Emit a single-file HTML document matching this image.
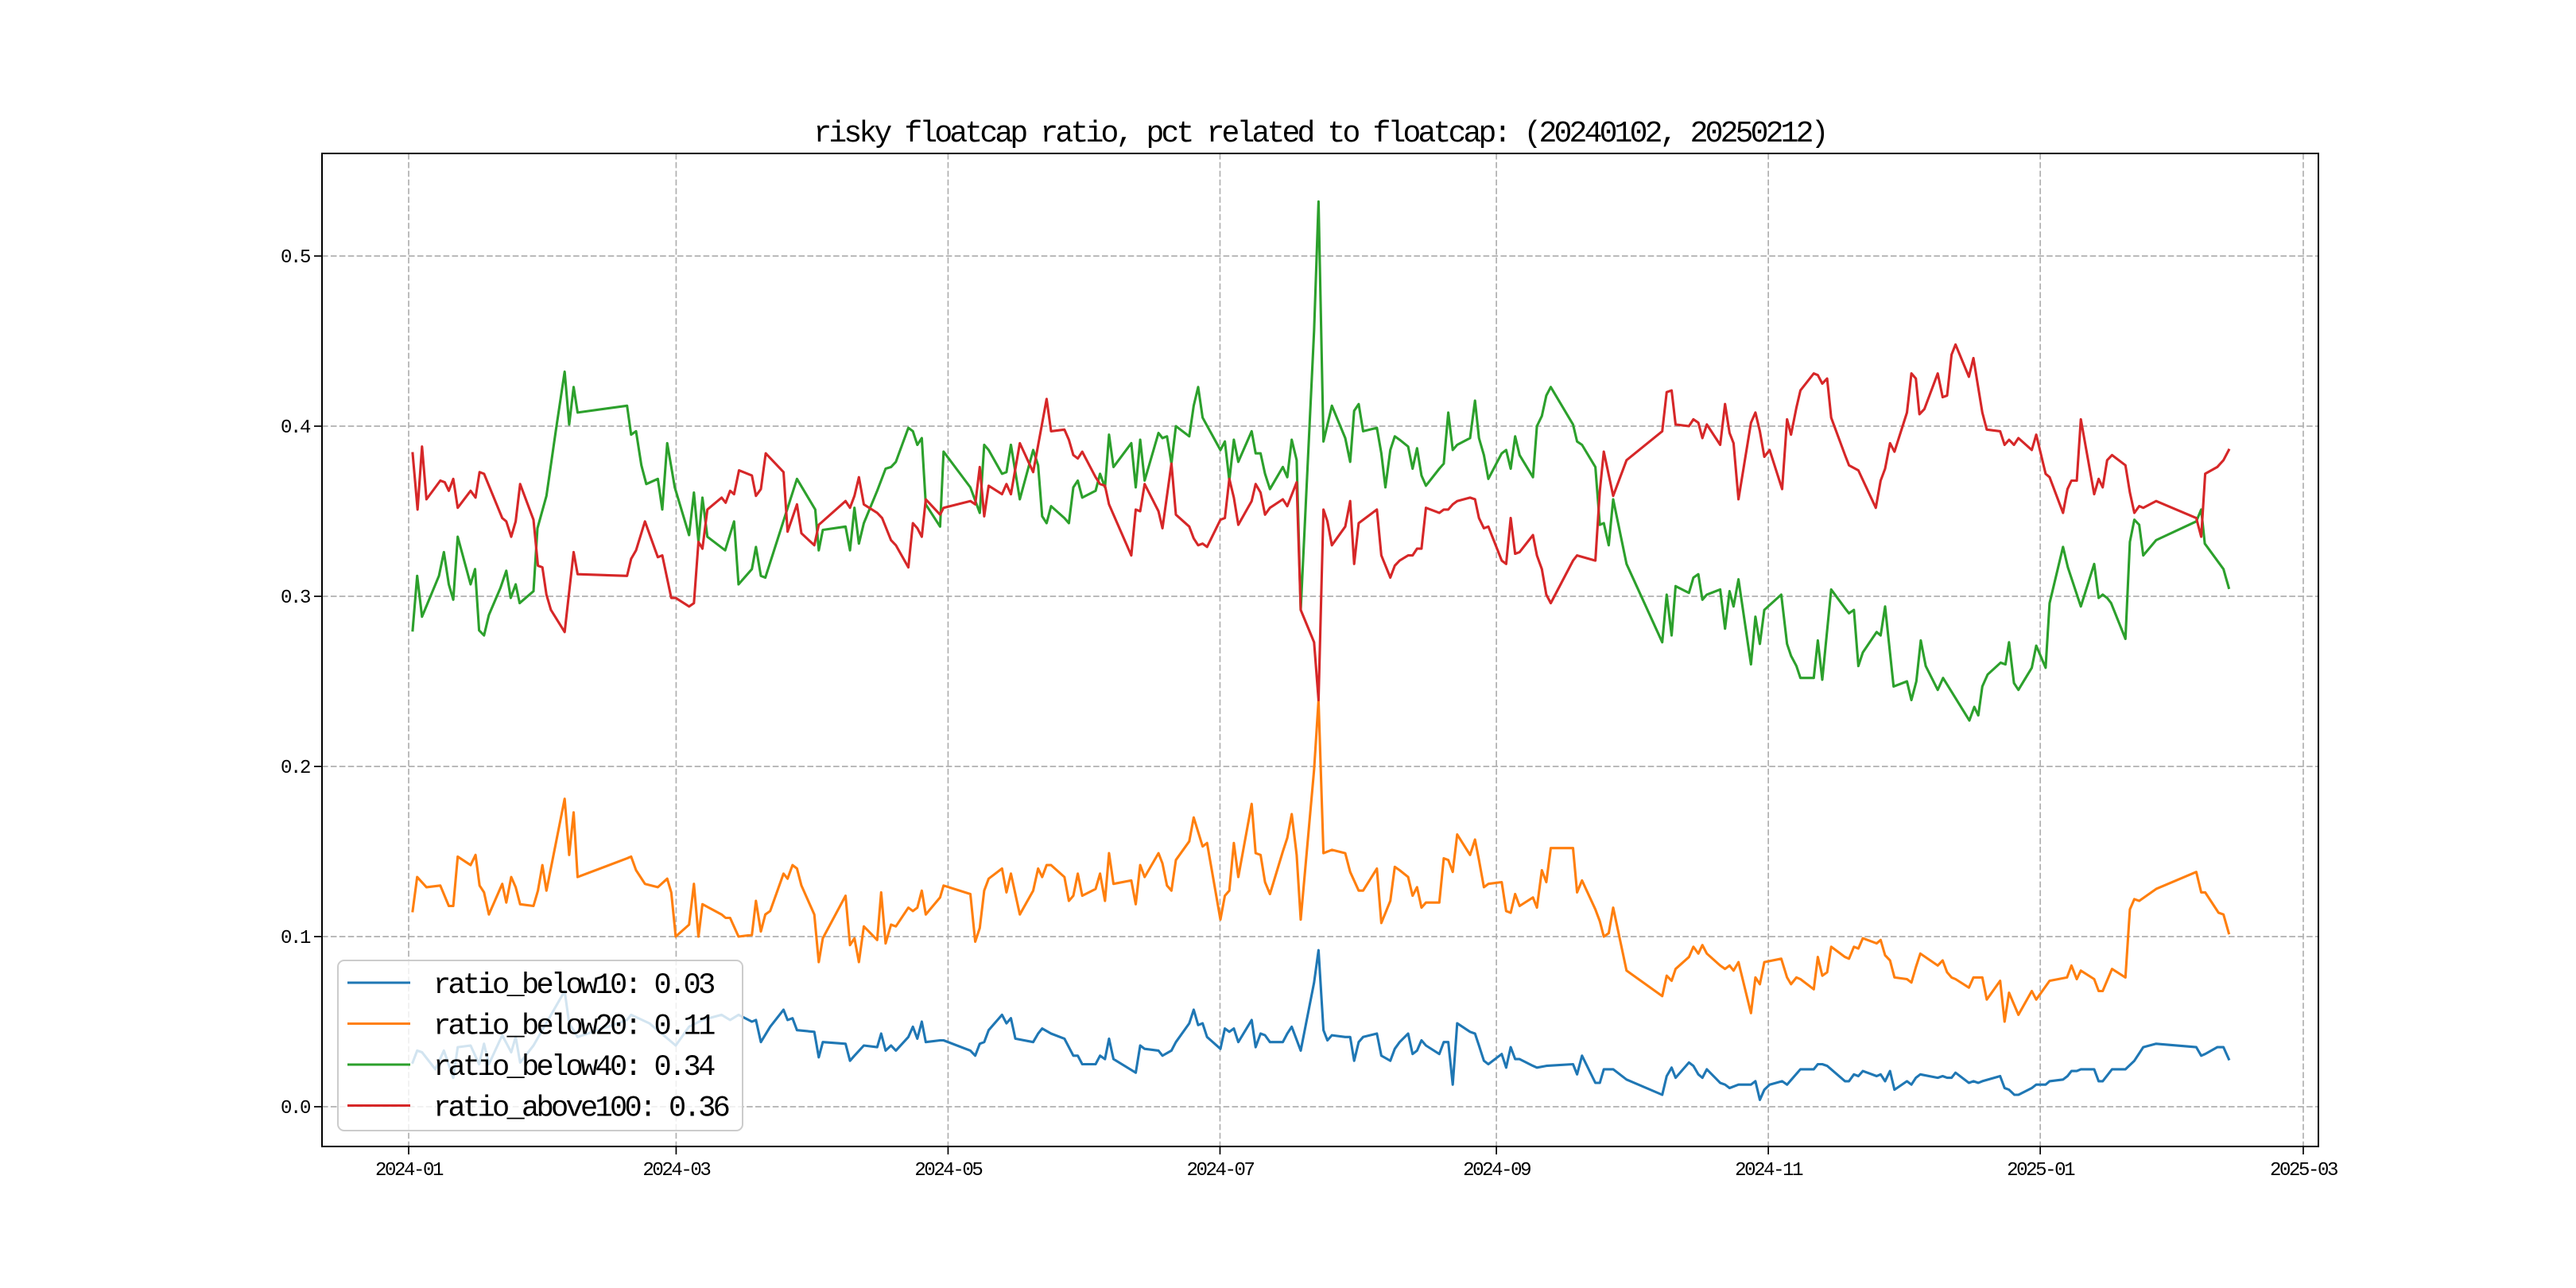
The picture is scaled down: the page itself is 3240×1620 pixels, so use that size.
<!DOCTYPE html>
<html><head><meta charset="utf-8"><style>
html,body{margin:0;padding:0;background:#fff;}
svg{display:block;}
text{font-family:"Liberation Mono",monospace;fill:#000;}
</style></head><body>
<svg id="chart" width="3240" height="1620" viewBox="0 0 3240 1620" xmlns="http://www.w3.org/2000/svg">
<rect width="3240" height="1620" fill="#fff"/>
<text x="1660" y="178" text-anchor="middle" font-size="38" letter-spacing="-3.8">risky floatcap ratio, pct related to floatcap: (20240102, 20250212)</text>
<g id="grid"></g><g id="series"></g><g id="axes"></g><g id="legend"></g>
</svg>
<script>
// days since 2024-01-01
const xTickDays=[0,60,121,182,244,305,366,425];
const xTickLabels=["2024-01","2024-03","2024-05","2024-07","2024-09","2024-11","2025-01","2025-03"];
const yTickValues=[0.0,0.1,0.2,0.3,0.4,0.5];
const yTickLabels=["0.0","0.1","0.2","0.3","0.4","0.5"];
const seriesNames=["ratio_below10: 0.03","ratio_below20: 0.11","ratio_below40: 0.34","ratio_above100: 0.36"];
const seriesColors=["#1f77b4","#ff7f0e","#2ca02c","#d62728"];

const below10Days=[0.9,1.9,3,6,7.9,10,11,13.9,15.8,16.9,18,21,23,24,25,28,35,36,37.9,49,49.9,54,59.9,62.9,65.9,70.2,72.1,74,77,77.9,79,81.1,84.1,85,86.1,87.1,91,92,92.9,98,99,100,102.1,105.1,106,107,
108.2,109.3,112.1,113.1,114.1,115.1,116,119.2,120,126,127.1,128.1,129.1,130.1,133.1,134.1,135.1,136.1,140.1,141.2,142.1,144.1,147.1,149.1,150.1,151.1,154.1,155.1,156.2,157.1,158.1,163.1,164.1,165.1,168.2,169.1,171.1,172.1,175.1,176.1,177.1,178.1,179.1,182.1,183.1,184.1,185.1,186.1,189.1,190,191.1,192.1,193.2,196.1,197.1,198.1,200.1,203.1,204.1,205.2,206.1,207.1,210.1,211.2,212.1,213.1,214.1,217.2,218.2,220.2,221.2,
222.3,224.2,225.2,226.2,227.2,228.2,231.2,232.2,233.2,234.2,235.2,238.1,239.2,240.1,241.2,242.2,245.2,246.2,247.2,248.2,249.2,252.2,253.1,255.2,261.2,262.1,263.2,266.2,267.2,268.1,270.2,273.2,281.2,282.2,283.3,284.2,287.2,288.2,289.3,290.2,291.2,294.2,295.3,296.3,298.3,301.1,302.1,303.1,304.1,305.3,308.1,309.2,312.2,315.2,316.1,317.1,318.2,319.1,322.2,323.1,324.2,325.2,326.2,329.3,330.2,331.2,332.3,333.3,336.1,337.1,
338.1,339.1,343,344.1,345.1,346.1,347,350,351,352.1,353,357,358,359,360.2,361.1,364.1,365.1,367.2,368.1,371.1,372.1,373,374.2,375.1,378.1,379.1,380,382.1,385.1,387.1,389.1,392,401,402.1,403,405.7,407.1,408.3];
const below10Values=[0.026,0.033,0.032,0.022,0.033,0.017,0.035,0.036,0.025,0.037,0.025,0.042,0.032,0.041,0.026,0.036,0.068,0.049,0.041,0.051,0.054,0.049,0.036,0.047,0.051,0.054,0.051,0.054,0.050,0.051,0.038,0.047,0.057,0.051,0.052,0.045,0.044,0.029,0.038,0.037,0.027,0.030,0.036,0.035,0.043,0.033,
0.036,0.033,0.041,0.047,0.040,0.050,0.038,0.039,0.039,0.033,0.030,0.037,0.038,0.045,0.054,0.049,0.052,0.040,0.038,0.043,0.046,0.043,0.040,0.030,0.030,0.025,0.025,0.030,0.028,0.040,0.028,0.020,0.036,0.034,0.033,0.030,0.033,0.038,0.049,0.057,0.048,0.049,0.041,0.034,0.046,0.044,0.046,0.038,0.051,0.035,0.043,0.042,0.038,0.038,0.043,0.047,0.033,0.073,0.092,0.045,0.039,0.042,0.041,0.041,0.027,0.038,0.041,0.043,0.030,0.027,0.034,
0.038,0.043,0.031,0.033,0.039,0.036,0.031,0.038,0.038,0.013,0.049,0.044,0.043,0.036,0.027,0.025,0.031,0.023,0.035,0.028,0.028,0.024,0.023,0.024,0.025,0.019,0.030,0.014,0.014,0.022,0.022,0.016,0.007,0.018,0.023,0.017,0.026,0.024,0.019,0.017,0.022,0.014,0.013,0.011,0.013,0.013,0.015,0.004,0.010,0.013,0.015,0.013,0.022,0.022,0.025,0.025,0.024,0.022,0.015,0.015,0.019,0.018,0.021,0.018,0.019,0.015,0.021,0.010,0.015,0.013,
0.017,0.019,0.017,0.018,0.017,0.017,0.020,0.014,0.015,0.014,0.015,0.018,0.011,0.010,0.007,0.007,0.011,0.013,0.013,0.015,0.016,0.018,0.021,0.021,0.022,0.022,0.015,0.015,0.022,0.022,0.027,0.035,0.037,0.035,0.030,0.031,0.035,0.035,0.028];

const below20Days=[0.9,1.9,4,7.1,9,10,11,13.9,15,15.9,16.9,18,21,21.9,23,24,25,28,29,30,30.9,35,36,37,37.9,49,49.9,51,53,55.9,58,58.9,59.9,62.9,64,65,65.9,70.2,71.1,72.1,74,77,77.9,79,80,81.1,84.1,85,86.1,87.1,88.1,91,92,92.9,98,99,100,101,102.1,105.1,106,107,
108.2,109.3,112.1,113.1,114.1,115.1,116,119.2,120,126,127.1,128.1,129.1,130.1,133.1,134.1,135.1,137.1,140.1,141.2,142.1,143.1,144.1,147.1,148.1,149.1,150.1,151.1,154.1,155.1,156.2,157.1,158.1,162.1,163.1,164.1,165.1,168.2,169.1,170.1,171.1,172.1,175.1,176.1,178.1,179.1,182.1,183.1,184.1,185.1,186.1,189.1,190,191.1,192.1,193.2,196.1,197.1,198.1,199.2,200.1,203.1,204.1,205.2,207.1,210.1,211.2,213.1,214.1,217.2,218.2,220.2,221.2,
222.3,224.2,225.2,226.2,227.2,228.2,231.2,232.2,233.2,234.2,235.2,238.1,239.2,240.1,241.2,242.2,245.2,246.2,247.2,248.2,249.2,252.2,253.1,254.2,255.2,256.2,261.2,262.1,263.2,266.2,267.2,268.1,269.2,270.2,273.2,281.2,282.2,283.3,284.2,287.2,288.2,289.3,290.2,291.2,294.2,295.3,296.3,297.2,298.3,301.1,302.1,303.1,304.1,307.9,309.2,310.1,311.3,312.2,315.2,316.1,317.1,318.2,319.1,322.2,323.1,324.2,325.2,326.2,329.3,330.2,331.2,332.3,333.3,336.1,337.1,
338.1,339.1,343,344.1,345.1,346.1,347,350,351,353,354,357,358,359,361.1,364.1,365.1,368.1,372,373,374.2,375.1,378.1,379.1,380,382.1,385.1,386.1,387.1,388.2,392,401,402.1,403,406,407.1,408.3];
const below20Values=[0.115,0.135,0.129,0.130,0.118,0.118,0.147,0.142,0.148,0.130,0.126,0.113,0.131,0.120,0.135,0.129,0.119,0.118,0.127,0.142,0.127,0.181,0.148,0.173,0.135,0.146,0.147,0.139,0.131,0.129,0.134,0.126,0.100,0.107,0.131,0.100,0.119,0.113,0.111,0.111,0.100,0.101,0.121,0.103,0.113,0.115,0.137,0.134,0.142,0.140,0.130,0.113,0.085,0.099,0.124,0.095,0.099,0.085,0.106,0.098,0.126,0.096,
0.107,0.106,0.117,0.115,0.117,0.127,0.113,0.123,0.130,0.125,0.097,0.105,0.127,0.134,0.140,0.126,0.137,0.113,0.127,0.140,0.135,0.142,0.142,0.135,0.121,0.124,0.137,0.124,0.128,0.137,0.121,0.149,0.131,0.133,0.119,0.142,0.135,0.149,0.143,0.130,0.127,0.145,0.156,0.170,0.153,0.155,0.110,0.124,0.127,0.155,0.135,0.178,0.149,0.148,0.132,0.125,0.150,0.158,0.172,0.148,0.110,0.198,0.239,0.149,0.151,0.149,0.138,0.127,0.127,0.140,0.108,0.121,0.141,
0.139,0.135,0.124,0.129,0.117,0.120,0.120,0.146,0.145,0.138,0.160,0.148,0.157,0.145,0.129,0.131,0.132,0.115,0.114,0.125,0.118,0.123,0.117,0.139,0.132,0.152,0.152,0.126,0.133,0.116,0.109,0.100,0.102,0.117,0.080,0.065,0.077,0.074,0.081,0.088,0.094,0.090,0.095,0.090,0.083,0.081,0.083,0.080,0.085,0.055,0.076,0.072,0.085,0.087,0.076,0.072,0.076,0.075,0.069,0.088,0.077,0.079,0.094,0.088,0.087,0.094,0.093,0.099,0.096,0.098,0.089,0.086,0.076,0.075,0.073,
0.082,0.090,0.083,0.086,0.079,0.076,0.075,0.070,0.076,0.076,0.063,0.074,0.050,0.067,0.054,0.068,0.063,0.074,0.076,0.083,0.075,0.080,0.075,0.068,0.068,0.081,0.076,0.116,0.122,0.121,0.128,0.138,0.126,0.126,0.114,0.113,0.102];

const below40Days=[0.9,1.9,3,6.8,7.9,9,10,11,13.9,14.9,15.8,16.9,18,20.6,21.9,22.9,24,24.9,28,28.9,30.9,33,35,36,37,37.9,49,49.9,51,52.2,53.3,55.9,56.9,58,59.7,62.9,64,65,65.9,67,71,73,74,77,77.9,79,80,87.1,91.2,92,92.9,98,99,100,101,102.1,105.1,107,
108.2,109.3,112.1,113.1,114.1,115.1,116,119.2,120,126,128.1,129.1,130.1,133.1,134.1,135.1,137.1,140.1,141.2,142.1,143.1,144.1,147.1,148.1,149.1,150.1,151.1,154.1,155.1,156.2,157.1,158.1,162.1,163.1,164.1,165.1,168.2,169.1,170.1,171.1,172.1,175.1,176.1,177.1,178.1,182.1,183.1,184.1,185.1,186.1,189.1,190,191.1,192.1,193.2,196.1,197.1,198.1,199.2,200.1,203.1,204.1,205.2,207.1,210.1,211.2,212.1,213.1,214.1,217.2,218.2,219.1,220.2,221.2,
222.3,224.2,225.2,226.2,227.2,228.2,231.2,232.2,233.2,234.2,235.2,238.1,239.2,240.1,241.2,242.2,245.2,246.2,247.2,248.2,249.2,252.2,253.1,254.2,255.2,256.2,261.2,262.1,263.2,266.2,267.2,268.1,269.2,270.2,273.2,281.2,282.2,283.3,284.2,287.2,288.2,289.3,290.2,291.2,294.2,295.3,296.3,297.2,298.3,301.1,302.1,303.1,304.1,307.9,309.2,310.1,311.3,312.2,315.2,316.1,317.1,319.1,322.2,323.1,324.2,325.2,326.2,329.3,330.2,331.2,333.1,336.1,337.1,338.2,339.2,340.3,
343,344.2,350.1,351.2,352.1,353,354.2,357.1,358.2,359,360.1,361.1,364.1,365.1,367.2,368.1,371.1,372.2,375.1,378.1,379.1,380,381,381.9,385.1,386.1,387.1,388.2,389.1,392,401,402.1,402.9,407.1,408.3];
const below40Values=[0.280,0.312,0.288,0.312,0.326,0.307,0.298,0.335,0.307,0.316,0.280,0.277,0.289,0.305,0.315,0.299,0.307,0.296,0.303,0.340,0.359,0.397,0.432,0.401,0.423,0.408,0.412,0.395,0.397,0.377,0.366,0.369,0.351,0.390,0.364,0.336,0.361,0.332,0.358,0.335,0.327,0.344,0.307,0.316,0.329,0.312,0.311,0.369,0.351,0.327,0.339,0.341,0.327,0.352,0.331,0.343,0.362,0.375,
0.376,0.379,0.399,0.397,0.389,0.393,0.354,0.341,0.385,0.364,0.349,0.389,0.386,0.372,0.373,0.389,0.357,0.386,0.377,0.347,0.343,0.353,0.346,0.343,0.364,0.368,0.358,0.362,0.372,0.364,0.395,0.376,0.390,0.364,0.392,0.368,0.396,0.393,0.394,0.378,0.400,0.394,0.412,0.423,0.405,0.386,0.391,0.368,0.392,0.379,0.397,0.384,0.384,0.372,0.363,0.376,0.370,0.392,0.380,0.292,0.456,0.532,0.391,0.412,0.393,0.379,0.409,0.413,0.397,0.399,0.384,0.364,0.386,0.394,
0.392,0.388,0.375,0.387,0.371,0.365,0.375,0.378,0.408,0.386,0.389,0.393,0.415,0.393,0.383,0.369,0.384,0.386,0.375,0.394,0.383,0.370,0.400,0.406,0.418,0.423,0.401,0.391,0.389,0.376,0.342,0.343,0.330,0.357,0.319,0.273,0.301,0.277,0.306,0.302,0.311,0.313,0.298,0.301,0.304,0.281,0.303,0.294,0.310,0.260,0.288,0.272,0.292,0.301,0.272,0.265,0.259,0.252,0.252,0.274,0.251,0.304,0.293,0.290,0.292,0.259,0.267,0.279,0.277,0.294,0.247,0.250,0.239,0.250,0.274,0.259,
0.245,0.252,0.227,0.235,0.230,0.247,0.254,0.261,0.260,0.273,0.249,0.245,0.258,0.271,0.258,0.296,0.329,0.317,0.294,0.319,0.299,0.301,0.299,0.296,0.275,0.332,0.345,0.342,0.324,0.333,0.344,0.351,0.331,0.316,0.305];

const above100Days=[0.9,2,3,4,7.1,8.1,9,10,11,13.9,15,15.9,16.9,21,21.9,23,24,25,28,29,30,30.9,31.9,35,37,37.9,49,49.9,51,53,55.9,56.9,58.9,59.9,62.9,64,65,65.9,67,70.2,71.1,72.1,73,74.1,77,77.9,79,80.1,84.1,85,87.1,88.1,91,92,98,99,100,101,102.1,105.1,106.2,
108.2,109.3,112.1,113.1,114.1,115.1,116,119.2,120,126,127.1,128.1,129.1,130.1,133.1,134.1,135.1,137.1,140.1,143.1,144.1,147.1,148.1,149.1,150.1,151.1,154.1,155.1,156.2,157.1,162.1,163.1,164.1,165.1,168.2,169.1,171.1,172.1,175.1,176.1,177.1,178.1,179.1,182.1,183.1,184.1,185.1,186.1,189.1,190,191.1,192.1,193.2,196.1,197.1,199.2,200.1,203.1,204.1,205.2,206.1,207.1,210.1,211.2,212.1,213.1,217.2,218.2,220.2,221.2,
222.3,224.2,225.2,226.2,227.2,228.2,231.2,232.2,233.2,234.2,235.2,238.1,239.2,240.1,241.2,242.2,245.2,246.2,247.2,248.2,249.2,252.2,253.1,254.2,255.2,256.2,261.2,262.1,266.2,267.2,268.1,270.2,273.2,281.2,282.2,283.3,284.2,287.2,288.2,289.3,290.2,291.2,294.2,295.3,296.3,297.2,298.3,301.1,302.1,303.1,304.1,305.3,308.1,309.2,310.1,311.3,312.2,315.2,316.1,317.1,318.2,319.1,322.2,323.1,325.2,329.1,330.2,331.2,332.3,333.3,336.1,337.1,
338.1,338.9,340,343,344.1,345.1,346.1,347,350,351,353,354,357,358,359,360.1,361.1,364.1,365.1,367.2,368.1,371.1,372.1,373,374.2,375.1,378.1,379.1,380,381,382.1,385.1,386.1,387.1,388.2,389.1,392,401,402.1,403,405.7,407.1,408.3];
const above100Values=[0.384,0.351,0.388,0.357,0.368,0.367,0.362,0.369,0.352,0.362,0.358,0.373,0.372,0.346,0.344,0.335,0.344,0.366,0.345,0.318,0.317,0.301,0.292,0.279,0.326,0.313,0.312,0.322,0.327,0.344,0.323,0.324,0.299,0.299,0.294,0.296,0.332,0.328,0.351,0.358,0.355,0.362,0.360,0.374,0.371,0.359,0.363,0.384,0.373,0.338,0.354,0.337,0.330,0.342,0.356,0.352,0.359,0.370,0.354,0.349,0.346,
0.333,0.330,0.317,0.343,0.340,0.335,0.357,0.348,0.352,0.356,0.354,0.376,0.347,0.365,0.360,0.366,0.360,0.390,0.373,0.416,0.397,0.398,0.392,0.383,0.381,0.385,0.370,0.366,0.365,0.354,0.324,0.351,0.350,0.366,0.350,0.340,0.378,0.348,0.341,0.334,0.330,0.331,0.329,0.345,0.346,0.369,0.358,0.342,0.356,0.366,0.361,0.348,0.352,0.357,0.353,0.367,0.292,0.273,0.239,0.351,0.344,0.330,0.341,0.356,0.319,0.343,0.351,0.324,0.311,0.318,
0.321,0.324,0.324,0.328,0.328,0.352,0.349,0.351,0.351,0.354,0.356,0.358,0.357,0.346,0.340,0.341,0.321,0.319,0.346,0.325,0.326,0.336,0.324,0.316,0.301,0.296,0.321,0.324,0.321,0.362,0.385,0.359,0.380,0.397,0.420,0.421,0.401,0.400,0.404,0.402,0.393,0.401,0.389,0.413,0.396,0.390,0.357,0.402,0.408,0.397,0.382,0.386,0.363,0.404,0.395,0.411,0.421,0.431,0.430,0.425,0.428,0.405,0.383,0.377,0.374,0.352,0.368,0.375,0.390,0.385,0.408,0.431,
0.428,0.407,0.410,0.431,0.417,0.418,0.442,0.448,0.429,0.440,0.408,0.398,0.397,0.389,0.392,0.389,0.393,0.386,0.395,0.372,0.370,0.349,0.363,0.368,0.368,0.404,0.360,0.369,0.364,0.380,0.383,0.377,0.361,0.349,0.353,0.352,0.356,0.346,0.335,0.372,0.376,0.380,0.386];

const NS="http://www.w3.org/2000/svg";
const L=405,R=2916,T=193,B=1442;
function xScale(d){return 514+d*5.607;}
function yScale(v){return 1392-v*2140;}
function mk(tag,attrs,parent){const e=document.createElementNS(NS,tag);for(const k in attrs)e.setAttribute(k,attrs[k]);parent.appendChild(e);return e;}
const grid=document.getElementById('grid'),axes=document.getElementById('axes'),ser=document.getElementById('series'),leg=document.getElementById('legend');

xTickDays.forEach((d,i)=>{
  const x=xScale(d);
  const g=mk('line',{x1:x,x2:x,y1:T,y2:B,stroke:'#b0b0b0','stroke-width':1.7,'stroke-dasharray':'7.6 3.3'},grid);
  
  
  const t=mk('line',{x1:x,x2:x,y1:B,y2:B+10,stroke:'#000','stroke-width':1.7},axes);
  
  
  const lb=mk('text',{x:x,y:B+36,'text-anchor':'middle','font-size':24,'letter-spacing':-2.4},axes);
  lb.textContent=xTickLabels[i];
  
  
});
yTickValues.forEach((v,i)=>{
  const y=yScale(v);
  const g=mk('line',{x1:L,x2:R,y1:y,y2:y,stroke:'#b0b0b0','stroke-width':1.7,'stroke-dasharray':'7.6 3.3'},grid);
  
  
  const t=mk('line',{x1:L-10,x2:L,y1:y,y2:y,stroke:'#000','stroke-width':1.7},axes);
  
  
  const lb=mk('text',{x:L-16,y:y+8,'text-anchor':'end','font-size':24,'letter-spacing':-2.4},axes);
  lb.textContent=yTickLabels[i];
  
  
});
const frame=mk('rect',{x:L,y:T,width:R-L,height:B-T,fill:'none',stroke:'#000','stroke-width':2},axes);



const allDays=[below10Days,below20Days,below40Days,above100Days];
const allVals=[below10Values,below20Values,below40Values,above100Values];
const lineNames=['line-ratio-below10','line-ratio-below20','line-ratio-below40','line-ratio-above100'];
allDays.forEach((ds,s)=>{
  const vs=allVals[s];
  const n=Math.min(ds.length,vs.length);
  let p='';
  for(let i=0;i<n;i++){p+=(i?'L':'M')+xScale(ds[i]).toFixed(1)+' '+yScale(vs[i]).toFixed(1);}
  const path=mk('path',{d:p,fill:'none',stroke:seriesColors[s],'stroke-width':3.1,'stroke-linejoin':'round','stroke-linecap':'square'},ser);
  
  
});

const box=mk('rect',{x:425,y:1208,width:509,height:214,rx:8,fill:'#fff','fill-opacity':0.8,stroke:'#cccccc','stroke-width':2},leg);


seriesNames.forEach((nm,i)=>{
  const y=1236+i*51.5;
  const ln=mk('line',{x1:437,x2:516,y1:y,y2:y,stroke:seriesColors[i],'stroke-width':3.1},leg);
  
  
  const t=mk('text',{x:545,y:y+13,'font-size':37,'letter-spacing':-3.7},leg);
  t.textContent=nm;
  
  
});
</script>
</body></html>
